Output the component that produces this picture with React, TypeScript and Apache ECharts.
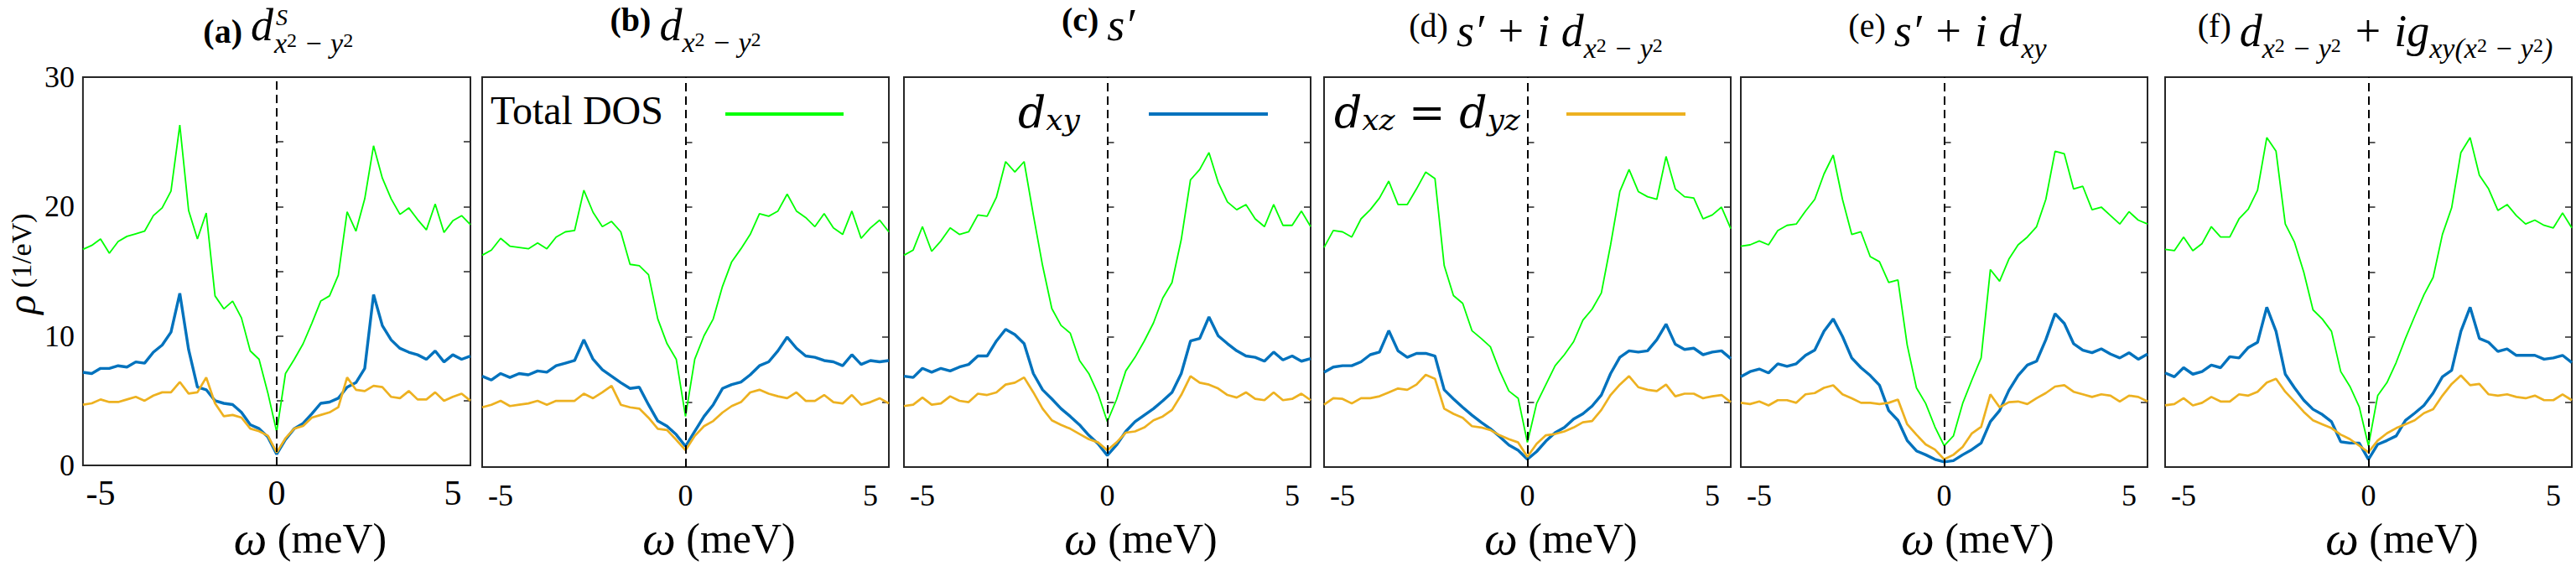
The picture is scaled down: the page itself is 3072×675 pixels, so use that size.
import React, { useEffect, useRef } from "react";
import * as echarts from "echarts";

// ---- data ----
const OMEGA = [
  -5.5, -5.25, -5, -4.75, -4.5, -4.25, -4, -3.75, -3.5, -3.25, -3, -2.75, -2.5, -2.25, -2,
  -1.75, -1.5, -1.25, -1, -0.75, -0.5, -0.25, 0, 0.25, 0.5, 0.75, 1, 1.25, 1.5, 1.75, 2,
  2.25, 2.5, 2.75, 3, 3.25, 3.5, 3.75, 4, 4.25, 4.5, 4.75, 5, 5.25, 5.5,
];
const X_TICKS = [-5, 0, 5];
const Y_TICKS = [0, 10, 20, 30];

const A_TOTAL = [16.7, 17.0, 17.5, 16.4, 17.3, 17.7, 17.9, 18.1, 19.3, 19.9, 21.2, 26.3, 19.7, 17.5, 19.5, 13.1, 12.1, 12.7, 11.4, 8.85, 8.2, 5.6, 2.6, 7.1, 8.2, 9.4, 11.0, 12.7, 13.1, 14.7, 19.6, 18.1, 20.6, 24.7, 22.2, 20.6, 19.4, 19.9, 19.0, 18.2, 20.2, 18.0, 18.9, 19.3, 18.6];
const A_DXY = [7.2, 7.1, 7.5, 7.5, 7.7, 7.6, 8.0, 7.9, 8.75, 9.3, 10.3, 13.3, 8.95, 6.05, 5.85, 5.0, 4.8, 4.7, 4.1, 3.15, 2.85, 2.2, 0.87, 2.0, 2.85, 3.25, 4.0, 4.8, 4.9, 5.2, 6.05, 6.4, 7.5, 13.2, 10.8, 9.7, 9.05, 8.75, 8.55, 8.2, 8.85, 8.0, 8.55, 8.2, 8.45];
const A_DXZ = [4.7, 4.8, 5.1, 4.9, 4.9, 5.1, 5.3, 5.0, 5.4, 5.65, 5.65, 6.45, 5.55, 5.65, 6.8, 4.8, 3.8, 3.9, 3.7, 2.85, 2.65, 2.3, 1.0, 2.1, 2.85, 3.05, 3.7, 3.9, 4.1, 4.5, 6.8, 5.85, 5.75, 6.15, 6.05, 5.3, 5.2, 5.75, 5.1, 5.1, 5.65, 5.0, 5.3, 5.55, 5.0];

const B_TOTAL = [16.3, 16.7, 17.6, 17.0, 16.9, 16.8, 17.25, 16.8, 17.7, 18.1, 18.2, 21.3, 19.6, 18.5, 18.9, 18.1, 15.6, 15.5, 14.8, 11.4, 9.5, 8.3, 3.9, 8.3, 10.1, 11.4, 13.9, 15.8, 16.8, 17.9, 19.5, 19.3, 19.7, 21.0, 19.7, 19.2, 18.5, 19.5, 18.4, 17.9, 19.7, 17.6, 18.4, 19.0, 18.1];
const B_DXY = [7.0, 6.7, 7.2, 6.9, 7.2, 7.1, 7.4, 7.3, 7.8, 8.0, 8.2, 9.8, 8.3, 7.5, 7.0, 6.5, 6.05, 6.15, 4.8, 3.55, 3.15, 2.5, 1.6, 2.75, 3.9, 4.8, 6.05, 6.35, 6.55, 7.1, 7.8, 8.1, 8.95, 10.0, 9.15, 8.55, 8.45, 8.2, 8.1, 7.8, 8.65, 7.9, 8.2, 8.1, 8.2];
const B_DXZ = [4.6, 4.8, 5.1, 4.7, 4.8, 4.9, 5.1, 4.8, 5.1, 5.1, 5.1, 5.65, 5.3, 5.75, 6.25, 4.8, 4.6, 4.5, 3.8, 2.95, 2.85, 2.1, 1.3, 2.4, 3.15, 3.55, 4.2, 4.7, 5.0, 5.75, 5.95, 5.65, 5.45, 5.3, 5.75, 5.1, 5.1, 5.55, 5.0, 4.9, 5.55, 4.8, 5.0, 5.3, 4.9];

const C_TOTAL = [16.3, 16.7, 18.5, 16.6, 17.4, 18.4, 17.9, 18.1, 19.4, 19.3, 20.75, 23.5, 22.7, 23.5, 19.4, 15.5, 12.2, 10.9, 10.3, 8.2, 7.2, 5.65, 3.5, 5.2, 7.4, 8.45, 9.7, 11.1, 13.0, 14.2, 17.5, 22.1, 22.9, 24.2, 21.9, 20.4, 19.8, 20.2, 19.1, 18.5, 20.2, 18.6, 18.6, 19.7, 18.5];
const C_DXY = [7.0, 6.9, 7.6, 7.3, 7.6, 7.4, 7.7, 7.9, 8.55, 8.55, 9.7, 10.6, 10.2, 9.5, 7.2, 5.95, 5.25, 4.5, 3.9, 3.25, 2.45, 1.8, 0.9, 1.7, 2.75, 3.5, 4.0, 4.5, 5.1, 5.75, 7.2, 9.7, 9.9, 11.55, 10.1, 9.5, 8.95, 8.55, 8.45, 8.15, 8.85, 8.25, 8.55, 8.15, 8.35];
const C_DXZ = [4.7, 4.8, 5.35, 4.8, 4.9, 5.45, 5.1, 5.0, 5.65, 5.55, 5.75, 6.35, 6.5, 6.9, 5.75, 4.5, 3.6, 3.25, 2.95, 2.55, 2.15, 1.9, 1.3, 1.9, 2.65, 2.75, 3.05, 3.6, 3.9, 4.4, 5.55, 7.0, 6.5, 6.35, 6.05, 5.55, 5.35, 5.75, 5.25, 5.15, 5.75, 5.15, 5.25, 5.65, 5.15];

const D_TOTAL = [16.9, 18.2, 18.1, 17.7, 19.1, 19.8, 20.7, 22.0, 20.2, 20.2, 21.4, 22.7, 22.2, 15.5, 13.2, 12.6, 10.5, 9.9, 9.25, 7.4, 5.85, 5.3, 1.9, 4.9, 6.35, 7.8, 8.65, 9.65, 11.3, 12.15, 13.4, 17.1, 21.2, 22.9, 21.2, 20.8, 20.6, 23.9, 21.4, 20.8, 20.7, 19.1, 19.4, 20.0, 18.35];
const D_DXY = [7.3, 7.7, 7.8, 7.8, 8.1, 8.65, 8.85, 10.5, 8.95, 8.45, 8.75, 8.75, 8.55, 5.95, 5.25, 4.6, 4.0, 3.45, 2.95, 2.35, 1.7, 1.3, 0.6, 1.2, 2.0, 2.65, 3.05, 3.7, 4.1, 4.7, 5.55, 7.2, 8.45, 8.95, 8.85, 8.95, 9.8, 11.0, 9.45, 9.05, 9.15, 8.65, 8.85, 8.95, 8.35];
const D_DXZ = [4.8, 5.3, 5.25, 4.9, 5.3, 5.3, 5.45, 5.75, 6.05, 5.95, 6.35, 7.1, 6.8, 4.5, 4.1, 3.8, 3.15, 3.05, 2.85, 2.45, 2.15, 1.9, 0.8, 1.8, 2.45, 2.55, 2.75, 3.05, 3.45, 3.55, 4.4, 5.55, 6.35, 7.0, 6.15, 5.95, 5.85, 6.35, 5.45, 5.65, 5.65, 5.3, 5.45, 5.55, 5.0];

const E_TOTAL = [17.0, 17.1, 17.4, 17.1, 18.2, 18.6, 18.7, 19.7, 20.6, 22.55, 24.0, 20.6, 17.9, 18.1, 16.2, 15.8, 14.2, 14.4, 9.4, 6.1, 4.9, 3.1, 1.65, 2.4, 4.9, 6.7, 8.4, 15.2, 14.3, 16.0, 17.1, 17.7, 18.5, 20.6, 24.3, 24.1, 21.4, 21.6, 19.8, 20.0, 19.35, 18.7, 19.65, 19.0, 18.7];
const E_DXY = [6.95, 7.35, 7.55, 7.25, 7.95, 7.75, 7.95, 8.6, 9.0, 10.45, 11.4, 10.05, 8.4, 7.65, 7.05, 6.3, 4.35, 3.6, 2.05, 1.25, 0.95, 0.6, 0.4, 0.5, 0.95, 1.35, 1.85, 3.5, 4.35, 5.9, 7.05, 7.85, 8.15, 9.8, 11.8, 11.05, 9.5, 9.0, 8.8, 9.1, 8.7, 8.4, 8.8, 8.3, 8.7];
const E_DXZ = [4.95, 4.85, 5.05, 4.75, 5.15, 5.15, 4.95, 5.6, 5.7, 6.1, 6.3, 5.6, 5.3, 4.95, 4.95, 4.85, 4.95, 5.2, 3.3, 2.5, 1.75, 1.35, 0.6, 0.95, 1.55, 2.6, 3.1, 5.6, 4.6, 5.0, 5.05, 4.85, 5.3, 5.7, 6.2, 6.3, 5.8, 5.6, 5.4, 5.6, 5.5, 5.05, 5.5, 5.4, 5.05];

const F_TOTAL = [16.75, 16.65, 17.7, 16.65, 17.2, 18.5, 17.7, 17.7, 19.1, 19.85, 21.3, 25.35, 24.3, 18.7, 17.3, 15.0, 12.1, 11.4, 10.45, 7.35, 6.2, 4.65, 1.65, 5.5, 6.5, 8.05, 9.9, 11.6, 13.25, 14.6, 17.9, 19.95, 24.2, 25.35, 22.45, 21.4, 19.75, 20.2, 19.35, 18.7, 19.0, 18.6, 18.4, 19.55, 18.4];
const F_DXY = [7.25, 6.95, 7.65, 7.15, 7.35, 7.85, 7.65, 8.5, 8.4, 9.2, 9.6, 12.3, 10.45, 7.15, 6.1, 5.15, 4.45, 4.05, 3.5, 1.95, 1.85, 1.85, 0.6, 1.75, 2.05, 2.4, 3.6, 4.15, 4.75, 5.7, 6.95, 7.45, 10.45, 12.3, 9.9, 9.6, 8.9, 9.1, 8.6, 8.6, 8.6, 8.3, 8.4, 8.6, 8.05];
const F_DXZ = [4.75, 4.85, 5.3, 4.75, 4.95, 5.4, 5.05, 5.05, 5.6, 5.5, 5.8, 6.5, 6.8, 5.8, 5.05, 4.25, 3.6, 3.3, 3.0, 2.5, 2.15, 1.65, 1.15, 2.05, 2.6, 3.0, 3.3, 3.6, 4.15, 4.45, 5.5, 6.4, 7.05, 6.3, 6.4, 5.6, 5.5, 5.6, 5.4, 5.3, 5.5, 5.15, 5.15, 5.6, 5.15];

const PANELS = [
  { total: A_TOTAL, dxy: A_DXY, dxz: A_DXZ },
  { total: B_TOTAL, dxy: B_DXY, dxz: B_DXZ },
  { total: C_TOTAL, dxy: C_DXY, dxz: C_DXZ },
  { total: D_TOTAL, dxy: D_DXY, dxz: D_DXZ },
  { total: E_TOTAL, dxy: E_DXY, dxz: E_DXZ },
  { total: F_TOTAL, dxy: F_DXY, dxz: F_DXZ },
];

// ---- styling / layout ----
const SERIF = "'Liberation Serif','Times New Roman',serif";
const MATH = "'DejaVu Serif','Liberation Serif',serif";
const GREEN = "#00FF00";
const BLUE = "#0072BD";
const ORANGE = "#EDB120";
const AXIS = "#262626";
const GRID_LEFT = [76, 575, 1078, 1579, 2076, 2582];
const GRID_TOP = 92;
const GRID_W = 485;
const GRID_H = 484;

const titleRich = (bold: boolean) => ({
  p: { fontFamily: SERIF, fontSize: 40, fontWeight: bold ? "bold" : "normal", lineHeight: 64, verticalAlign: "top", fill: "#000" },
  m: { fontFamily: SERIF, fontSize: 54, fontStyle: "italic", lineHeight: 54, padding: [0, 0, 11, 0], verticalAlign: "top", fill: "#000" },
  s: { fontFamily: SERIF, fontSize: 34, fontStyle: "italic", lineHeight: 34, verticalAlign: "bottom", fill: "#000" },
  t: { fontFamily: SERIF, fontSize: 24, lineHeight: 24, padding: [0, 0, 8, 0], verticalAlign: "bottom", fill: "#000" },
});
const subRich = {
  s: { fontFamily: SERIF, fontSize: 34, fontStyle: "italic", lineHeight: 34, verticalAlign: "bottom", fill: "#000" },
  t: { fontFamily: SERIF, fontSize: 24, lineHeight: 24, padding: [0, 0, 8, 0], verticalAlign: "bottom", fill: "#000" },
};
const mainRich = {
  p: { fontFamily: SERIF, fontSize: 40, fontWeight: "bold", lineHeight: 40, verticalAlign: "bottom", fill: "#000" },
  m: { fontFamily: SERIF, fontSize: 54, fontStyle: "italic", lineHeight: 54, verticalAlign: "bottom", fill: "#000" },
};

const SUB_X2Y2 = "{s|x}{t|2}{s| − y}{t|2}";
const TITLES = [
  { text: "", bold: true, dx: 0 },
  { text: "{p|(b) }{m|d}" + SUB_X2Y2, bold: true, dx: 0 },
  { text: "{p|(c) }{m|s′}", bold: true, dx: -11 },
  { text: "{p|(d) }{m|s′ + i d}" + SUB_X2Y2, bold: false, dx: 10 },
  { text: "{p|(e) }{m|s′ + i d}{s|xy}", bold: false, dx: 4 },
  { text: "{p|(f) }{m|d}" + SUB_X2Y2 + "{m| + ig}{s|xy(x}{t|2}{s| − y}{t|2}{s|)}", bold: false, dx: 8 },
];

const legendRich = {
  m: { fontFamily: MATH, fontSize: 52, fontStyle: "italic", lineHeight: 52, padding: [0, 0, 8, 0], verticalAlign: "top", fill: "#000" },
  n: { fontFamily: MATH, fontSize: 52, lineHeight: 52, padding: [0, 0, 8, 0], verticalAlign: "top", fill: "#000" },
  s: { fontFamily: MATH, fontSize: 36, fontStyle: "italic", lineHeight: 36, verticalAlign: "bottom", fill: "#000" },
};

function buildOption() {
  const grid: any[] = [];
  const xAxis: any[] = [];
  const yAxis: any[] = [];
  const series: any[] = [];
  PANELS.forEach((p, i) => {
    grid.push({
      left: GRID_LEFT[i], top: GRID_TOP, width: GRID_W, height: GRID_H,
      show: true, borderColor: AXIS, borderWidth: 2, backgroundColor: "transparent",
    });
    xAxis.push({
      gridIndex: i, type: "value", min: -5.5, max: 5.5,
      splitLine: { show: false }, axisLine: { show: false }, axisTick: { show: false },
      axisLabel: {
        customValues: X_TICKS, fontFamily: SERIF, fontSize: i === 0 ? 42 : 36, color: "#000",
        margin: i === 0 ? 12 : 16, formatter: (v: number) => String(v),
      },
      name: "{w|ω} (meV)", nameLocation: "middle", nameGap: 50,
      nameTextStyle: {
        fontFamily: SERIF, fontSize: 50, color: "#000", padding: [0, 0, 0, 80],
        rich: { w: { fontFamily: SERIF, fontStyle: "italic", fontSize: 56, color: "#000" } },
      },
    });
    yAxis.push({
      gridIndex: i, type: "value", min: 0, max: 30, interval: 5, position: "left",
      splitLine: { show: false }, axisLine: { show: false },
      axisTick: { show: true, inside: true, length: 8, lineStyle: { color: AXIS, width: 1.5 } },
      axisLabel: {
        show: i === 0, customValues: Y_TICKS, fontFamily: SERIF, fontSize: 36, color: "#000", margin: 10,
      },
      name: i === 0 ? "{r|ρ} (1/eV)" : "", nameLocation: "middle", nameRotate: 90, nameGap: 26,
      nameTextStyle: {
        fontFamily: SERIF, fontSize: 34, lineHeight: 40, color: "#000", padding: [0, 0, 0, 18],
        rich: { r: { fontFamily: SERIF, fontStyle: "italic", fontSize: 48, lineHeight: 40, color: "#000" } },
      },
    });
    yAxis.push({
      gridIndex: i, type: "value", min: 0, max: 30, interval: 5, position: "right",
      splitLine: { show: false }, axisLine: { show: false },
      axisTick: { show: true, inside: true, length: 8, lineStyle: { color: AXIS, width: 1.5 } },
      axisLabel: { show: false },
    });
    const line = (name: string, ys: number[], color: string, width: number, extra: any = {}) => ({
      name, type: "line", xAxisIndex: i, yAxisIndex: 2 * i, showSymbol: false, symbol: "none",
      data: OMEGA.map((x, k) => [x, ys[k]]),
      lineStyle: { color, width }, itemStyle: { color }, z: 3, ...extra,
    });
    series.push(line("Total DOS", p.total, GREEN, 1.8, {
      markLine: {
        silent: true, symbol: ["none", "none"], label: { show: false },
        lineStyle: { color: "#000", type: [10, 6], width: 2 },
        data: [{ xAxis: 0 }],
      },
    }));
    series.push(line("d_xy", p.dxy, BLUE, 3.4));
    series.push(line("d_xz = d_yz", p.dxz, ORANGE, 2.7));
  });

  const graphic: any[] = [];
  // title (a): main part, stacked superscript S and subscript
  const XD = 326;
  graphic.push({
    type: "text", x: XD, y: 57,
    style: { text: "{p|(a) }{m|d}", rich: mainRich, align: "right", verticalAlign: "bottom", fill: "#000" },
  });
  graphic.push({
    type: "text", x: XD + 1, y: 34,
    style: { text: SUB_X2Y2, rich: subRich, align: "left", verticalAlign: "top", fill: "#000" },
  });
  graphic.push({
    type: "text", x: XD + 3, y: 6,
    style: { text: "S", fontFamily: SERIF, fontStyle: "italic", fontSize: 28, lineHeight: 28, align: "left", verticalAlign: "top", fill: "#000" },
  });
  // other titles
  TITLES.forEach((t, i) => {
    if (!t.text) return;
    const cx = GRID_LEFT[i] + GRID_W / 2 + t.dx;
    graphic.push({
      type: "text", x: cx, y: t.bold ? 3 : 10,
      style: { text: t.text, rich: titleRich(t.bold), align: "center", verticalAlign: "top", fill: "#000" },
    });
  });
  // in-panel legend entries
  graphic.push({
    type: "text", x: 585, y: 131,
    style: { text: "Total DOS", fontFamily: SERIF, fontSize: 48, align: "left", verticalAlign: "middle", fill: "#000" },
  });
  graphic.push({ type: "line", shape: { x1: 865, y1: 136, x2: 1006, y2: 136 }, style: { stroke: GREEN, lineWidth: 4 } });
  graphic.push({
    type: "text", x: 1214, y: 108,
    style: { text: "{m|d}{s|xy}", rich: legendRich, align: "left", verticalAlign: "top", fill: "#000" },
  });
  graphic.push({ type: "line", shape: { x1: 1370, y1: 136, x2: 1512, y2: 136 }, style: { stroke: BLUE, lineWidth: 4 } });
  graphic.push({
    type: "text", x: 1591, y: 108,
    style: { text: "{m|d}{s|xz}{n| = }{m|d}{s|yz}", rich: legendRich, align: "left", verticalAlign: "top", fill: "#000" },
  });
  graphic.push({ type: "line", shape: { x1: 1868, y1: 136, x2: 2010, y2: 136 }, style: { stroke: ORANGE, lineWidth: 4 } });

  return {
    animation: false,
    backgroundColor: "#fff",
    grid, xAxis, yAxis, series, graphic,
  };
}

export default function App() {
  const ref = useRef<HTMLDivElement>(null);
  useEffect(() => {
    if (!ref.current) return;
    const chart = echarts.init(ref.current, undefined, { renderer: "svg" });
    chart.setOption(buildOption() as any);
    return () => chart.dispose();
  }, []);
  return (
    <div
      ref={ref}
      style={{ position: "absolute", left: 0, top: 0, width: 3072, height: 675, background: "#fff" }}
    />
  );
}
